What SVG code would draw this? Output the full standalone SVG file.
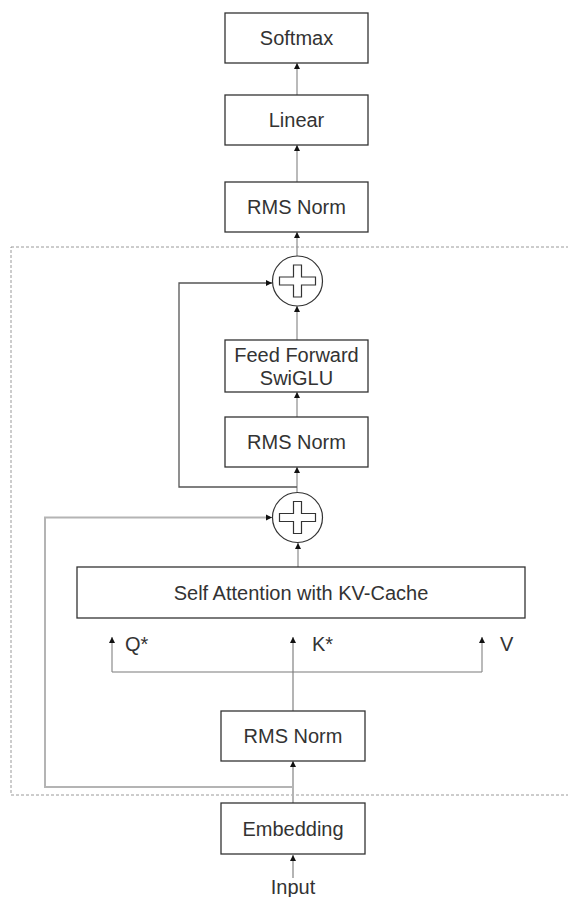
<svg xmlns="http://www.w3.org/2000/svg" width="568" height="897" viewBox="0 0 568 897">
  <style>
    .box { fill: #ffffff; stroke: #333333; stroke-width: 1.3; }
    .lbl { font-family: "Liberation Sans", Arial, sans-serif; font-size: 20px; fill: #333333; text-anchor: middle; }
    .tag { font-family: "Liberation Sans", Arial, sans-serif; font-size: 20px; fill: #333333; }
    .wire { fill: none; stroke: #8c8c8c; stroke-width: 1.2; marker-end: url(#tip); }
    .wire-dark { fill: none; stroke: #555555; stroke-width: 1.3; marker-end: url(#tip); }
    .wire-soft { fill: none; stroke: #b4b4b4; stroke-width: 2; }
    .sum { fill: #ffffff; stroke: #333333; stroke-width: 1.2; }
    .cross { fill: #ffffff; stroke: #333333; stroke-width: 1.2; }
  </style>
  <defs>
    <marker id="tip" viewBox="0 0 10 10" refX="10" refY="5" markerWidth="6" markerHeight="7" markerUnits="userSpaceOnUse" orient="auto">
      <path d="M0,0 L10,5 L0,10 z" fill="#111111"/>
    </marker>
    <!-- plus sign drawn as an outlined cross, centred on the origin -->
    <path id="plus" d="M-4,-16 H4 V-4 H18 V4 H4 V16 H-4 V4 H-18 V-4 H-4 Z"/>
  </defs>

  <!-- repeated decoder block -->
  <rect id="block" x="11" y="247" width="580" height="548" fill="none" stroke="#9a9a9a" stroke-width="1" stroke-dasharray="3,2"/>

  <g id="connectors">
    <path class="wire" d="M297,256 V232"/>
    <path class="wire" d="M297,182 V145"/>
    <path class="wire" d="M297,95 V63"/>
    <path class="wire" d="M297,340 V306"/>
    <path class="wire" d="M297,417 V392"/>
    <path class="wire" d="M297,492 V467"/>
    <path class="wire" d="M298,567 V543"/>
    <path class="wire-dark" d="M297,487 H179 V283 H272"/>
    <path class="wire-soft" d="M293,787 H45 V517.5 H270"/>
    <path class="wire" d="M267,517.5 H272"/>
    <path class="wire-soft" d="M293,803 V765"/>
    <path class="wire" d="M293,767 V761"/>
    <path class="wire-soft" d="M293,711 V641"/>
    <path class="wire" d="M293,643 V637"/>
    <path fill="none" stroke="#7a7a7a" stroke-width="1.2" d="M112,672 H482"/>
    <path class="wire" d="M112,672 V637"/>
    <path class="wire" d="M482,672 V637"/>
    <path class="wire-soft" d="M293,878 V859"/>
    <path class="wire" d="M293,861 V855"/>
  </g>

  <g id="softmax">
    <rect class="box" x="225" y="13" width="143" height="50"/>
    <text class="lbl" x="296.5" y="45">Softmax</text>
  </g>
  <g id="linear">
    <rect class="box" x="225" y="95" width="143" height="50"/>
    <text class="lbl" x="296.5" y="127">Linear</text>
  </g>
  <g id="final-norm">
    <rect class="box" x="225" y="182" width="143" height="50"/>
    <text class="lbl" x="296.5" y="214">RMS Norm</text>
  </g>
  <g id="add-ffn">
    <circle class="sum" cx="297.5" cy="281" r="25"/>
    <use href="#plus" class="cross" x="297.5" y="281"/>
  </g>
  <g id="feed-forward">
    <rect class="box" x="225" y="340" width="143" height="52"/>
    <text class="lbl" x="296.5" y="362">Feed Forward</text>
    <text class="lbl" x="296.5" y="385">SwiGLU</text>
  </g>
  <g id="ffn-norm">
    <rect class="box" x="225" y="417" width="143" height="50"/>
    <text class="lbl" x="296.5" y="449">RMS Norm</text>
  </g>
  <g id="add-attn">
    <circle class="sum" cx="297.5" cy="517.5" r="25"/>
    <use href="#plus" class="cross" x="297.5" y="517.5" stroke-width="1.8"/>
  </g>
  <g id="self-attention">
    <rect class="box" x="77" y="567" width="448" height="51"/>
    <text class="lbl" x="301" y="599.5">Self Attention with KV-Cache</text>
  </g>
  <g id="qkv-labels">
    <text class="tag" x="125" y="651">Q*</text>
    <text class="tag" x="312" y="651">K*</text>
    <text class="tag" x="500" y="651">V</text>
  </g>
  <g id="attn-norm">
    <rect class="box" x="221" y="711" width="144" height="50" stroke-width="1.6"/>
    <text class="lbl" x="293" y="743">RMS Norm</text>
  </g>
  <g id="embedding">
    <rect class="box" x="221" y="803" width="144" height="51" stroke-width="1.6"/>
    <text class="lbl" x="293" y="835.5">Embedding</text>
  </g>
  <g id="input">
    <text class="lbl" x="293" y="894">Input</text>
  </g>
</svg>
